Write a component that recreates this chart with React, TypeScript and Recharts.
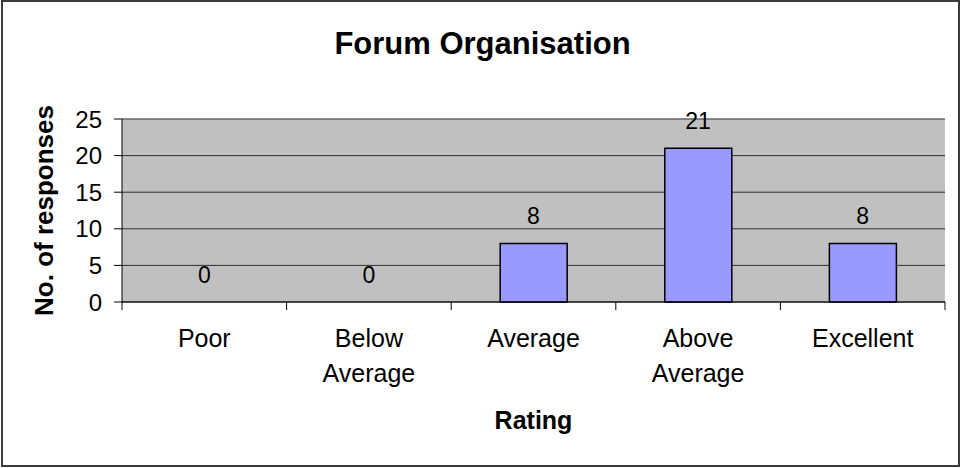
import React from "react";
import {
  BarChart,
  Bar,
  Line,
  XAxis,
  YAxis,
  CartesianGrid,
  LabelList,
  ReferenceLine,
} from "recharts";

const categories = ["Poor", "Below Average", "Average", "Above Average", "Excellent"];
const responses = [0, 0, 8, 21, 8];
const yTicks = [0, 5, 10, 15, 20, 25];

const FONT = '"Liberation Sans", Arial, sans-serif';

const CHART_W = 963;
const CHART_H = 468;
const MARGIN = { top: 119, right: 18, bottom: 96, left: 62 };
const Y_AXIS_W = 60;
const PLOT_W = CHART_W - MARGIN.left - MARGIN.right - Y_AXIS_W;
const BAND = PLOT_W / categories.length;

const data = categories.map((c, i) => ({ rating: c, value: responses[i] }));

// category label split on spaces + tick marks at band boundaries (Excel style)
function CategoryTick(props: any) {
  const { x, y, payload, index } = props;
  const words: string[] = String(payload.value).split(" ");
  const left = x - BAND / 2;
  const right = x + BAND / 2;
  return (
    <g>
      <line x1={left} x2={left} y1={y} y2={y + 8} stroke="#000" />
      {index === categories.length - 1 && (
        <line x1={right} x2={right} y1={y} y2={y + 8} stroke="#000" />
      )}
      <text
        x={x}
        y={y}
        textAnchor="middle"
        fontFamily={FONT}
        fontSize={25}
        fill="#000"
      >
        {words.map((w, i) => (
          <tspan key={i} x={x} dy={i === 0 ? 45 : 35}>
            {w}
          </tspan>
        ))}
      </text>
    </g>
  );
}

export default function App() {
  return (
    <div
      style={{
        position: "fixed",
        left: 0,
        top: 0,
        width: CHART_W,
        height: CHART_H,
        background: "#fff",
        fontFamily: FONT,
      }}
    >
      <div
        style={{
          position: "absolute",
          left: 1,
          top: 0,
          width: 959,
          height: 467,
          boxSizing: "border-box",
          border: "2px solid #3a3a3a",
        }}
      />
      <div
        style={{
          position: "absolute",
          left: 0,
          width: 965,
          top: 26,
          textAlign: "center",
          fontSize: 31,
          fontWeight: "bold",
          color: "#000",
        }}
      >
        Forum Organisation
      </div>
      <BarChart
        width={CHART_W}
        height={CHART_H}
        data={data}
        margin={MARGIN}
        style={{ position: "absolute", left: 0, top: 0 }}
      >
        <CartesianGrid
          fill="#C0C0C0"
          stroke="#303030"
          vertical={false}
          horizontal={true}
        />
        <XAxis
          dataKey="rating"
          height={70}
          tickLine={false}
          tickSize={0}
          tickMargin={0}
          tick={<CategoryTick />}
          axisLine={{ stroke: "#000" }}
          interval={0}
          label={{
            value: "Rating",
            content: (p: any) => {
              const vb = p.viewBox;
              return (
                <text
                  x={vb.x + vb.width / 2}
                  y={429}
                  textAnchor="middle"
                  fontFamily={FONT}
                  fontSize={25}
                  fontWeight="bold"
                  fill="#000"
                >
                  Rating
                </text>
              );
            },
          }}
        />
        <YAxis
          width={Y_AXIS_W}
          domain={[0, 25]}
          ticks={yTicks}
          interval={0}
          tickSize={8}
          tickMargin={12}
          tick={{ fontSize: 24, fill: "#000", fontFamily: FONT }}
          tickLine={{ stroke: "#000" }}
          axisLine={{ stroke: "#000" }}
          label={{
            value: "No. of responses",
            content: (p: any) => {
              const vb = p.viewBox;
              const cy = vb.y + vb.height / 2;
              return (
                <text
                  x={44}
                  y={cy}
                  transform={`rotate(-90 44 ${cy})`}
                  textAnchor="middle"
                  dominantBaseline="central"
                  fontFamily={FONT}
                  fontSize={26}
                  fontWeight="bold"
                  fill="#000"
                >
                  No. of responses
                </text>
              );
            },
          }}
        />
        <YAxis
          yAxisId="frame"
          orientation="right"
          width={0}
          tick={false}
          tickLine={false}
          axisLine={{ stroke: "#808080" }}
        />
        <ReferenceLine y={25} stroke="#808080" />
        <Bar
          dataKey="value"
          fill="#9999FF"
          stroke="#000"
          strokeWidth={1.5}
          barSize={67}
          isAnimationActive={false}
        />
        {/* invisible series just to carry the value labels (zero bars included) */}
        <Line
          dataKey="value"
          stroke="none"
          dot={false}
          activeDot={false}
          legendType="none"
          isAnimationActive={false}
        >
          <LabelList
            dataKey="value"
            position="top"
            offset={19}
            fill="#000"
            fontSize={23}
            fontFamily={FONT}
          />
        </Line>
      </BarChart>
    </div>
  );
}
